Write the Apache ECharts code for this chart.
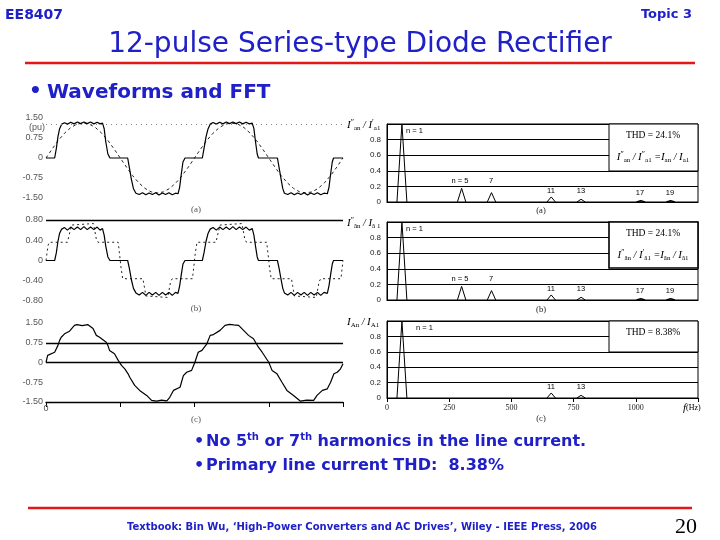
<!DOCTYPE html>
<html>
<head>
<meta charset="utf-8">
<script src="https://cdn.jsdelivr.net/npm/echarts@6/dist/echarts.min.js"></script>
<style>
html,body{margin:0;padding:0;background:#fff;}
#chart{width:720px;height:540px;}
</style>
</head>
<body>
<div id="chart"></div>
<script>
// ---------------- data ----------------
// waveforms: [electrical angle (deg), current (pu)]
const waveA_solid = [[0,0],[21,0],[25,0.35],[29,0.8],[33,1.1],[38,1.27],[45,1.32],[52,1.27],[60,1.34],[68,1.28],[76,1.35],[84,1.29],[92,1.35],[100,1.29],[108,1.35],[116,1.28],[124,1.34],[131,1.28],[137,1.31],[141,1.1],[145,0.6],[150,0.15],[155,0],[198,0],[202,-0.35],[207,-0.8],[212,-1.15],[218,-1.32],[226,-1.37],[234,-1.3],[242,-1.38],[250,-1.31],[258,-1.37],[266,-1.3],[274,-1.39],[282,-1.31],[290,-1.37],[298,-1.3],[306,-1.38],[314,-1.32],[320,-1.34],[324,-1.1],[328,-0.6],[332,-0.15],[337,0],[379,0],[383,0.35],[388,0.8],[393,1.1],[398,1.27],[405,1.33],[413,1.27],[421,1.34],[429,1.28],[437,1.35],[445,1.29],[453,1.35],[461,1.29],[469,1.35],[477,1.28],[485,1.34],[493,1.28],[500,1.31],[504,1.1],[508,0.6],[512,0.15],[515,0],[561,0],[565,-0.35],[570,-0.8],[574,-1.15],[578,-1.32],[586,-1.37],[594,-1.3],[602,-1.38],[610,-1.31],[618,-1.37],[626,-1.3],[634,-1.39],[642,-1.31],[650,-1.37],[658,-1.3],[666,-1.38],[674,-1.32],[682,-1.34],[686,-1.1],[690,-0.6],[694,-0.15],[697,0],[720,0]];
const waveA_dashed = [[0,0],[15,0.34],[30,0.66],[45,0.93],[60,1.14],[75,1.27],[90,1.31],[105,1.27],[120,1.14],[135,0.93],[150,0.66],[165,0.34],[180,0],[195,-0.34],[210,-0.66],[225,-0.93],[240,-1.14],[255,-1.27],[270,-1.31],[285,-1.27],[300,-1.14],[315,-0.93],[330,-0.66],[345,-0.34],[360,0],[375,0.34],[390,0.66],[405,0.93],[420,1.14],[435,1.27],[450,1.31],[465,1.27],[480,1.14],[495,0.93],[510,0.66],[525,0.34],[540,0],[555,-0.34],[570,-0.66],[585,-0.93],[600,-1.14],[615,-1.27],[630,-1.31],[645,-1.27],[660,-1.14],[675,-0.93],[690,-0.66],[705,-0.34],[720,0]];
const waveB_solid = [[0,0],[21,0],[25,0.15],[29,0.38],[33,0.54],[38,0.62],[45,0.65],[52,0.6],[60,0.66],[68,0.61],[76,0.66],[84,0.61],[92,0.67],[100,0.61],[108,0.66],[116,0.61],[124,0.66],[131,0.6],[137,0.63],[141,0.5],[145,0.28],[150,0.07],[155,0],[198,0],[202,-0.15],[207,-0.38],[212,-0.55],[218,-0.64],[226,-0.68],[234,-0.63],[242,-0.69],[250,-0.63],[258,-0.68],[266,-0.63],[274,-0.69],[282,-0.63],[290,-0.68],[298,-0.63],[306,-0.69],[314,-0.63],[320,-0.65],[324,-0.5],[328,-0.28],[332,-0.07],[337,0],[379,0],[383,0.15],[388,0.38],[393,0.54],[398,0.62],[405,0.65],[413,0.6],[421,0.66],[429,0.61],[437,0.66],[445,0.61],[453,0.67],[461,0.61],[469,0.66],[477,0.61],[485,0.66],[493,0.6],[500,0.63],[504,0.5],[508,0.28],[512,0.07],[515,0],[561,0],[565,-0.15],[570,-0.38],[574,-0.55],[578,-0.64],[586,-0.68],[594,-0.63],[602,-0.69],[610,-0.63],[618,-0.68],[626,-0.63],[634,-0.69],[642,-0.63],[650,-0.68],[658,-0.63],[666,-0.69],[674,-0.63],[682,-0.65],[686,-0.5],[690,-0.28],[694,-0.07],[697,0],[720,0]];
const waveB_dashed = [[0,0],[5,0.3],[8,0.36],[52,0.36],[56,0.5],[62,0.7],[66,0.73],[115,0.73],[118,0.6],[122,0.42],[126,0.36],[175,0.36],[178,0.15],[182,-0.15],[186,-0.36],[235,-0.36],[238,-0.5],[242,-0.7],[246,-0.73],[295,-0.73],[298,-0.6],[302,-0.42],[306,-0.36],[355,-0.36],[358,-0.15],[362,0.15],[366,0.36],[412,0.36],[416,0.5],[422,0.7],[426,0.73],[475,0.73],[478,0.6],[482,0.42],[486,0.36],[535,0.36],[538,0.15],[542,-0.15],[546,-0.36],[595,-0.36],[598,-0.5],[602,-0.7],[606,-0.73],[655,-0.73],[658,-0.6],[662,-0.42],[666,-0.36],[715,-0.36],[718,-0.15],[720,0]];
const waveC_solid = [[0,0],[4,0.27],[8.5,0.34],[21,0.39],[29,0.65],[33,0.84],[37,0.96],[45,1.09],[57,1.19],[69,1.41],[75,1.44],[88,1.4],[101,1.44],[114,1.29],[122,1.03],[130,0.96],[146,0.77],[150,0.65],[154,0.46],[166,0.33],[175,0.08],[183,-0.11],[191,-0.24],[199,-0.43],[203,-0.56],[215,-0.87],[227,-1.06],[244,-1.25],[256,-1.44],[268,-1.47],[280,-1.43],[293,-1.46],[300,-1.32],[309,-1.06],[325,-0.94],[333,-0.5],[341,-0.37],[353,-0.3],[361,0.01],[369,0.39],[378,0.46],[390,0.71],[398,1.03],[406,1.06],[422,1.22],[434,1.41],[445,1.45],[455,1.43],[467,1.41],[479,1.22],[491,1.03],[503,0.9],[515,0.58],[524,0.39],[540,0.01],[548,-0.3],[560,-0.43],[572,-0.75],[584,-1.06],[600,-1.25],[617,-1.47],[632,-1.43],[649,-1.44],[657,-1.25],[670,-1.06],[682,-1.0],[690,-0.75],[698,-0.43],[706,-0.37],[714,-0.24],[720,-0.05]];

// spectra: harmonic order, frequency (Hz), normalised amplitude
const harmonicOrder = [1, 5, 7, 11, 13, 17, 19];
const harmonicFreq  = [60, 300, 420, 660, 780, 1020, 1140];
const specA = [1.0, 0.175, 0.12, 0.065, 0.035, 0.015, 0.015];
const specB = [1.0, 0.175, 0.12, 0.065, 0.035, 0.015, 0.015];
const specC = [1.0, 0, 0, 0.065, 0.035, 0, 0];
const thdText = ['THD = 24.1%', 'THD = 24.1%', 'THD = 8.38%'];
const waveTicksA = [-1.5, -0.75, 0, 0.75, 1.5];
const waveTicksB = [-0.8, -0.4, 0, 0.4, 0.8];
const specYTicks = [0, 0.2, 0.4, 0.6, 0.8];
const freqTicks = [0, 250, 500, 750, 1000];

// ---------------- chart ----------------
const chart = echarts.init(document.getElementById('chart'), null, {renderer: 'canvas'});
const blue = '#2020c8';
const red = '#e01818';
const lblGray = '#555';

function waveY(idx, min, max, interval) {
  return {gridIndex: idx, type: 'value', min: min, max: max, interval: interval,
    axisLine: {show: false}, axisTick: {show: false}, splitLine: {show: false},
    axisLabel: {fontSize: 9, color: lblGray, margin: 3, fontFamily: 'Liberation Sans',
      formatter: v => (Math.abs(v) < 1e-9 ? '0' : v.toFixed(2))}};
}
function specY(idx) {
  return {gridIndex: idx, type: 'value', min: specYTicks[0], max: 1, interval: specYTicks[1] - specYTicks[0],
    axisLine: {show: true, lineStyle: {color: '#000', width: 1}}, axisTick: {show: false},
    splitLine: {show: true, lineStyle: {color: '#000', width: 1}},
    axisLabel: {fontSize: 8, color: '#222', margin: 6, fontFamily: 'Liberation Sans',
      formatter: v => (v > 0.95 ? '' : (v === 0 ? '0' : v.toFixed(1)))}};
}
function specX(idx, withLabels) {
  return {gridIndex: idx, type: 'value', min: freqTicks[0], max: 1250, interval: freqTicks[1] - freqTicks[0],
    axisLine: {show: true, onZero: false, lineStyle: {color: '#000', width: 1.2}},
    axisTick: {show: withLabels, length: 4, lineStyle: {color: '#000'}},
    splitLine: {show: false},
    axisLabel: {show: withLabels, fontSize: 8, color: '#222', margin: 6, fontFamily: 'Liberation Serif',
      formatter: v => (v > freqTicks[freqTicks.length - 1] ? '' : String(v))}};
}
function line(data, xi, yi, opts) {
  return Object.assign({type: 'line', xAxisIndex: xi, yAxisIndex: yi, data: data, symbol: 'none',
    silent: true, animation: false,
    lineStyle: {color: '#000', width: 1.2}}, opts || {});
}
function specSeries(amps, idx) {
  const out = [];
  amps.forEach((a, k) => {
    if (a <= 0) return;
    const f = harmonicFreq[k];
    const hw = k === 0 ? 20 : 17;
    out.push(line([[f - hw, 0], [f, a], [f + hw, 0]], idx, idx,
      {lineStyle: {color: '#000', width: a < 0.03 ? 1.6 : 1}}));
  });
  return out;
}

const gridBase = {outerBoundsMode: 'none', containLabel: false};
const option = {
  animation: false,
  backgroundColor: '#fff',
  grid: [
    Object.assign({left: 46, top: 118, width: 297, height: 80}, gridBase),
    Object.assign({left: 46, top: 220, width: 297, height: 81}, gridBase),
    Object.assign({left: 46, top: 323, width: 297, height: 79}, gridBase),
    Object.assign({left: 387, top: 124, width: 311, height: 78, show: true, borderColor: '#000', borderWidth: 1}, gridBase),
    Object.assign({left: 387, top: 222, width: 311, height: 78, show: true, borderColor: '#000', borderWidth: 1}, gridBase),
    Object.assign({left: 387, top: 321, width: 311, height: 77, show: true, borderColor: '#000', borderWidth: 1}, gridBase)
  ],
  xAxis: [
    {gridIndex: 0, type: 'value', min: 0, max: 720, show: false},
    {gridIndex: 1, type: 'value', min: 0, max: 720, show: false},
    {gridIndex: 2, type: 'value', min: 0, max: 720, interval: 180,
      axisLine: {show: true, onZero: false, lineStyle: {color: '#000', width: 1.3}},
      axisTick: {show: true, length: 5, lineStyle: {color: '#000'}},
      splitLine: {show: false},
      axisLabel: {fontSize: 9, color: lblGray, margin: 2, formatter: v => (v === 0 ? '0' : '')}},
    specX(3, false), specX(4, false), specX(5, true)
  ],
  yAxis: [
    waveY(0, waveTicksA[0], waveTicksA[4], waveTicksA[1] - waveTicksA[0]),
    waveY(1, waveTicksB[0], waveTicksB[4], waveTicksB[1] - waveTicksB[0]),
    waveY(2, waveTicksA[0], waveTicksA[4], waveTicksA[1] - waveTicksA[0]),
    specY(3), specY(4), specY(5)
  ],
  series: [
    line(waveA_dashed, 0, 0, {lineStyle: {color: '#222', width: 1, type: [3, 3]}}),
    line(waveA_solid, 0, 0, {markLine: {silent: true, symbol: 'none', label: {show: false},
      lineStyle: {color: '#888', width: 1, type: [1, 4]}, data: [{yAxis: 1.25}]}}),
    line(waveB_dashed, 1, 1, {lineStyle: {color: '#222', width: 1, type: [2, 3]}}),
    line(waveB_solid, 1, 1, {markLine: {silent: true, symbol: 'none', label: {show: false},
      lineStyle: {color: '#000', width: 1.3, type: 'solid'}, data: [{yAxis: waveTicksB[4]}]}}),
    line(waveC_solid, 2, 2, {markLine: {silent: true, symbol: 'none', label: {show: false},
      lineStyle: {color: '#000', width: 1.3, type: 'solid'}, data: [{yAxis: waveTicksA[3]}, {yAxis: 0}]}})
  ].concat(specSeries(specA, 3), specSeries(specB, 4), specSeries(specC, 5)),
  graphic: []
};

const G = option.graphic;
function txt(x, y, text, font, fill, align) {
  G.push({type: 'text', z: 120, silent: true,
    style: {x: x, y: y, text: text, font: font, fill: fill || '#000', textAlign: align || 'left', textVerticalAlign: 'middle'}});
}
function rtxt(x, y, text, rich, align, fill) {
  G.push({type: 'text', z: 120, silent: true,
    style: {x: x, y: y, text: text, rich: rich, fill: fill || '#000', textAlign: align || 'left', textVerticalAlign: 'middle'}});
}
function hline(x1, x2, y, color, w) {
  G.push({type: 'line', z: 120, silent: true, shape: {x1: x1, y1: y, x2: x2, y2: y}, style: {stroke: color, lineWidth: w}});
}

// header
txt(5, 15, 'EE8407', 'bold 14px "DejaVu Sans"', blue);
txt(692, 15, 'Topic 3', 'bold 13px "DejaVu Sans"', blue, 'right');
txt(360, 45, '12-pulse Series-type Diode Rectifier', '28px "DejaVu Sans"', blue, 'center');
hline(25, 695, 63, red, 2.5);
txt(29, 92, '\u2022', 'bold 20px "DejaVu Sans"', blue);
txt(47, 93, 'Waveforms and FFT', 'bold 20px "DejaVu Sans"', blue);

// waveform panel extras
txt(45, 128, '(pu)', '9px "Liberation Sans"', lblGray, 'right');
txt(196, 210, '(a)', '9px "Liberation Serif"', lblGray, 'center');
txt(196, 309, '(b)', '9px "Liberation Serif"', lblGray, 'center');
txt(196, 420, '(c)', '9px "Liberation Serif"', lblGray, 'center');

// spectrum extras
const serifI = {fontFamily: 'Liberation Serif', fontStyle: 'italic', fontSize: 11, fill: '#000', lineHeight: 13};
const subS = {fontFamily: 'Liberation Serif', fontSize: 7, fill: '#000', verticalAlign: 'bottom', lineHeight: 13};
const primeS = {fontFamily: 'Liberation Serif', fontSize: 8, fill: '#000', verticalAlign: 'top', lineHeight: 13};
const opS = {fontFamily: 'Liberation Serif', fontStyle: 'italic', fontSize: 10, fill: '#000', lineHeight: 13};
const rich = {i: serifI, s: subS, p: primeS, o: opS};

rtxt(347, 125, '{i|I}{p|\u2033}{s|an}{o| / }{i|I}{p|\u2032}{s|a1}', rich);
rtxt(347, 223, '{i|I}{p|\u2033}{s|\u00e3n}{o| / }{i|I}{s|\u00e3 1}', rich);
rtxt(347, 322, '{i|I}{s|An}{o| / }{i|I}{s|A1}', rich);

const specTop = [124, 222, 321];
const specBot = [202, 300, 398];
const lblFont = '7.5px "Liberation Sans"';
[specA, specB, specC].forEach((amps, p) => {
  const top = specTop[p], bot = specBot[p];
  txt(p === 2 ? 416 : 406, top + 7, 'n = ' + harmonicOrder[0], lblFont, '#000');
  if (amps[1] > 0) txt(460, bot - 21, 'n = ' + harmonicOrder[1], lblFont, '#000', 'center');
  if (amps[2] > 0) txt(491, bot - 21, String(harmonicOrder[2]), lblFont, '#000', 'center');
  txt(551, bot - 11, String(harmonicOrder[3]), lblFont, '#000', 'center');
  txt(581, bot - 11, String(harmonicOrder[4]), lblFont, '#000', 'center');
  if (amps[5] > 0) txt(640, bot - 9, String(harmonicOrder[5]), lblFont, '#000', 'center');
  if (amps[6] > 0) txt(670, bot - 9, String(harmonicOrder[6]), lblFont, '#000', 'center');
});
// THD boxes
const boxBottom = [171, 268, 352];
[0, 1, 2].forEach(p => {
  G.push({type: 'rect', z: 110, silent: true,
    shape: {x: 609, y: specTop[p], width: 89, height: boxBottom[p] - specTop[p]},
    style: {fill: '#fff', stroke: '#000', lineWidth: p === 1 ? 1.6 : 1}});
  txt(653, specTop[p] + 11, thdText[p], '9.5px "Liberation Serif"', '#000', 'center');
});
rtxt(653, 157, '{i|I}{p|\u2033}{s|an}{o| / }{i|I}{p|\u2033}{s|a1}{o| =}{i|I}{s|an}{o| / }{i|I}{s|a1}', rich, 'center');
rtxt(653, 255, '{i|I}{p|\u2033}{s|\u00e3n}{o| / }{i|I}{p|\u2032}{s|\u00e31}{o| =}{i|I}{s|\u00e3n}{o| / }{i|I}{s|\u00e31}', rich, 'center');
txt(541, 211, '(a)', '8.5px "Liberation Serif"', '#222', 'center');
txt(541, 310, '(b)', '8.5px "Liberation Serif"', '#222', 'center');
txt(541, 419, '(c)', '8.5px "Liberation Serif"', '#222', 'center');
rtxt(683, 408, '{f|f}{h|(Hz)}', {f: {fontFamily: 'Liberation Serif', fontStyle: 'italic', fontSize: 11, fill: '#000'},
  h: {fontFamily: 'Liberation Serif', fontSize: 8, fill: '#000'}});

// bottom text
const bRich = {n: {fontFamily: 'DejaVu Sans', fontWeight: 'bold', fontSize: 16, fill: blue, lineHeight: 20},
  u: {fontFamily: 'DejaVu Sans', fontWeight: 'bold', fontSize: 10, fill: blue, verticalAlign: 'top', lineHeight: 20}};
txt(194, 442, '\u2022', 'bold 16px "DejaVu Sans"', blue);
rtxt(206, 442, '{n|No 5}{u|th}{n| or 7}{u|th}{n| harmonics in the line current.}', bRich, 'left', blue);
txt(194, 466, '\u2022', 'bold 16px "DejaVu Sans"', blue);
rtxt(206, 466, '{n|Primary line current THD:  8.38%}', bRich, 'left', blue);
hline(28, 692, 508, red, 2.5);
txt(362, 527, 'Textbook: Bin Wu, \u2018High-Power Converters and AC Drives\u2019, Wiley - IEEE Press, 2006', 'bold 10px "DejaVu Sans"', blue, 'center');
txt(697, 527, '20', '22px "Liberation Serif"', '#000', 'right');

chart.setOption(option);
</script>
</body>
</html>
